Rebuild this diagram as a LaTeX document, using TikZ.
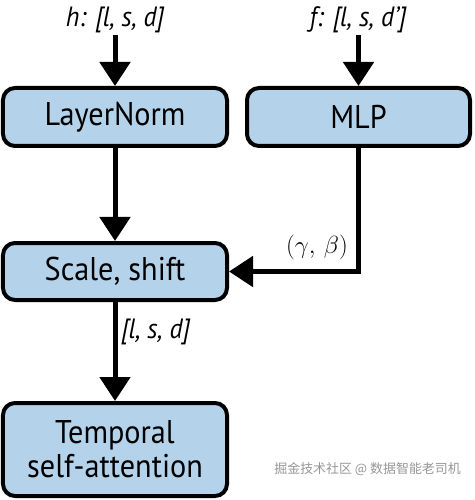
\documentclass[tikz,border=0pt]{standalone}
\usepackage{fontspec}
\setmainfont{PT Sans}[FakeStretch=0.92]
\newfontfamily\cjkfont{Noto Sans CJK SC}
\usetikzlibrary{arrows.meta}
\definecolor{boxblue}{RGB}{180,211,234}
\definecolor{wmgray}{RGB}{150,150,150}
\tikzset{
  blockbox/.style={draw=black, fill=boxblue, line width=4bp, rounded corners=12bp,
    inner sep=0pt, align=center, font=\fontsize{33}{34}\selectfont},
  flow/.style={line width=5bp, -{Triangle[width=30bp,length=24bp]}},
  dimlabel/.style={inner sep=0pt, font=\fontsize{28}{30}\selectfont\itshape},
}
\begin{document}
\begin{tikzpicture}[x=1bp,y=-1bp]
\useasboundingbox (0,0) rectangle (475,500);
\node[blockbox, minimum width=224bp, minimum height=58bp] (ln) at (115,117) {LayerNorm};
\node[blockbox, minimum width=223bp, minimum height=58bp] (mlp) at (358.5,117) {MLP};
\node[blockbox, minimum width=224bp, minimum height=57bp] (ss) at (115,271.5) {Scale, shift};
\node[blockbox, minimum width=224bp, minimum height=93bp] (ta) at (115,449.5) {Temporal\\self-attention};
\node[dimlabel, anchor=base] (h) at (115,27) {h: [l, s, d]};
\node[dimlabel, anchor=base] (f) at (358,27) {f: [l, s, d']};
\node[dimlabel, anchor=base west] (o) at (121,338) {[l, s, d]};
\node[inner sep=0pt, font=\fontsize{25}{28}\selectfont, anchor=base] (gb) at (317,253) {$(\gamma,\mskip3mu\beta)$};
\coordinate (hs) at (115,35);
\coordinate (fs) at (358.5,35);
\coordinate (corner) at (mlp.south |- ss.east);
\draw[flow] (hs) -- (ln.north);
\draw[flow] (fs) -- (mlp.north);
\draw[flow] (ln.south) -- (ss.north);
\draw[flow] (ss.south) -- (ta.north);
\draw[flow] (mlp.south) -- (corner) -- (ss.east);
\node[inner sep=0pt, anchor=east, text=wmgray, font=\cjkfont\fontsize{13}{15}\selectfont] (wm) at (461,469) {掘金技术社区 @ 数据智能老司机};
\end{tikzpicture}
\end{document}
